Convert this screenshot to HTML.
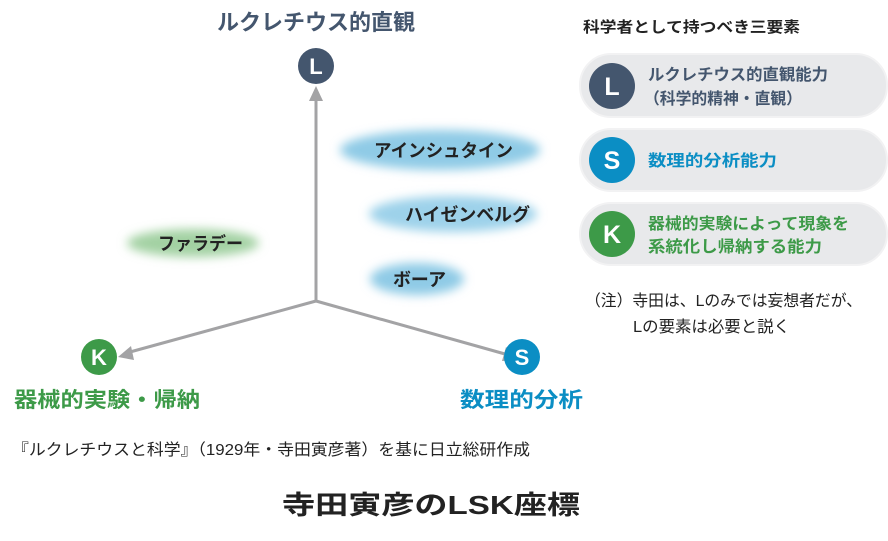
<!DOCTYPE html>
<html><head><meta charset="utf-8">
<style>
html,body{margin:0;padding:0;background:#fff;}
svg{display:block;}
text{font-family:"Liberation Sans","Noto Sans CJK JP",sans-serif;}
</style></head>
<body>
<svg width="888" height="541" viewBox="0 0 888 541" xmlns="http://www.w3.org/2000/svg">
<defs>
<filter id="bl" x="-30%" y="-60%" width="160%" height="220%"><feGaussianBlur stdDeviation="5"/></filter>
</defs>
<ellipse cx="440" cy="150" rx="100" ry="20" fill="#8fcbe6" filter="url(#bl)"/>
<ellipse cx="453" cy="214" rx="84" ry="18" fill="#9dd2ea" filter="url(#bl)"/>
<ellipse cx="417" cy="279" rx="47" ry="16" fill="#8fcbe6" filter="url(#bl)"/>
<ellipse cx="193" cy="243" rx="66" ry="14" fill="#a3d1a3" filter="url(#bl)"/>
<g font-size="18" font-weight="bold" fill="#222">
<text x="374" y="157" textLength="139" lengthAdjust="spacingAndGlyphs">アインシュタイン</text>
<text x="405" y="221" textLength="125" lengthAdjust="spacingAndGlyphs">ハイゼンベルグ</text>
<text x="393" y="286" textLength="53" lengthAdjust="spacingAndGlyphs">ボーア</text>
<text x="158" y="250" textLength="85" lengthAdjust="spacingAndGlyphs">ファラデー</text>
</g>
<g stroke="#a3a3a5" stroke-width="3" fill="none">
<line x1="316" y1="301" x2="316" y2="98"/>
<line x1="316" y1="301" x2="130" y2="352"/>
<line x1="316" y1="301" x2="505" y2="354"/>
</g>
<g fill="#a3a3a5">
<polygon points="316,86 309,101 323,101"/>
<polygon points="118,357 131,346 134,360"/>
<polygon points="519,360 502,361 506,347"/>
</g>
<circle cx="316" cy="66" r="18" fill="#44566e"/>
<text x="316" y="74" font-size="22" font-weight="bold" fill="#fff" text-anchor="middle">L</text>
<circle cx="99" cy="357" r="18" fill="#3d9a48"/>
<text x="99" y="365" font-size="22" font-weight="bold" fill="#fff" text-anchor="middle">K</text>
<circle cx="522" cy="357" r="18" fill="#0b8ec4"/>
<text x="522" y="365" font-size="22" font-weight="bold" fill="#fff" text-anchor="middle">S</text>
<text x="316" y="30" font-size="22" font-weight="bold" fill="#44566e" text-anchor="middle">ルクレチウス的直観</text>
<text x="14" y="407" font-size="21" font-weight="bold" fill="#3d9a48" textLength="186" lengthAdjust="spacingAndGlyphs">器械的実験・帰納</text>
<text x="460" y="407" font-size="21" font-weight="bold" fill="#0b8ec4" textLength="123" lengthAdjust="spacingAndGlyphs">数理的分析</text>
<text x="583" y="32" font-size="15" font-weight="bold" fill="#222" textLength="217" lengthAdjust="spacingAndGlyphs">科学者として持つべき三要素</text>
<g fill="#e8e9eb" stroke="#f2f2f3" stroke-width="2">
<rect x="580" y="54" width="307" height="63" rx="31"/>
<rect x="580" y="129" width="307" height="62" rx="31"/>
<rect x="580" y="203" width="307" height="62" rx="31"/>
</g>
<circle cx="612" cy="86" r="23" fill="#44566e"/>
<text x="612" y="95" font-size="25" font-weight="bold" fill="#fff" text-anchor="middle">L</text>
<circle cx="612" cy="160" r="23" fill="#0b8ec4"/>
<text x="612" y="169" font-size="25" font-weight="bold" fill="#fff" text-anchor="middle">S</text>
<circle cx="612" cy="234" r="23" fill="#3d9a48"/>
<text x="612" y="243" font-size="25" font-weight="bold" fill="#fff" text-anchor="middle">K</text>
<g font-size="16" font-weight="bold" lengthAdjust="spacingAndGlyphs">
<text x="648" y="80" fill="#44566e" textLength="180" lengthAdjust="spacingAndGlyphs">ルクレチウス的直観能力</text>
<text x="644" y="104" fill="#44566e" textLength="158" lengthAdjust="spacingAndGlyphs">（科学的精神・直観）</text>
<text x="648" y="166" fill="#0b8ec4" textLength="129" lengthAdjust="spacingAndGlyphs">数理的分析能力</text>
<text x="648" y="229" fill="#3d9a48" textLength="201" lengthAdjust="spacingAndGlyphs">器械的実験によって現象を</text>
<text x="648" y="252" fill="#3d9a48" textLength="174" lengthAdjust="spacingAndGlyphs">系統化し帰納する能力</text>
</g>
<g font-size="16" fill="#222">
<text x="585" y="306" textLength="277" lengthAdjust="spacingAndGlyphs">（注）寺田は、Lのみでは妄想者だが、</text>
<text x="633" y="332" textLength="157" lengthAdjust="spacingAndGlyphs">Lの要素は必要と説く</text>
</g>
<text x="12" y="455" font-size="16" fill="#222" textLength="518" lengthAdjust="spacingAndGlyphs">『ルクレチウスと科学』（1929年・寺田寅彦著）を基に日立総研作成</text>
<text x="282" y="514" font-size="26" font-weight="bold" fill="#222" textLength="298" lengthAdjust="spacingAndGlyphs">寺田寅彦のLSK座標</text>
</svg>
</body></html>
